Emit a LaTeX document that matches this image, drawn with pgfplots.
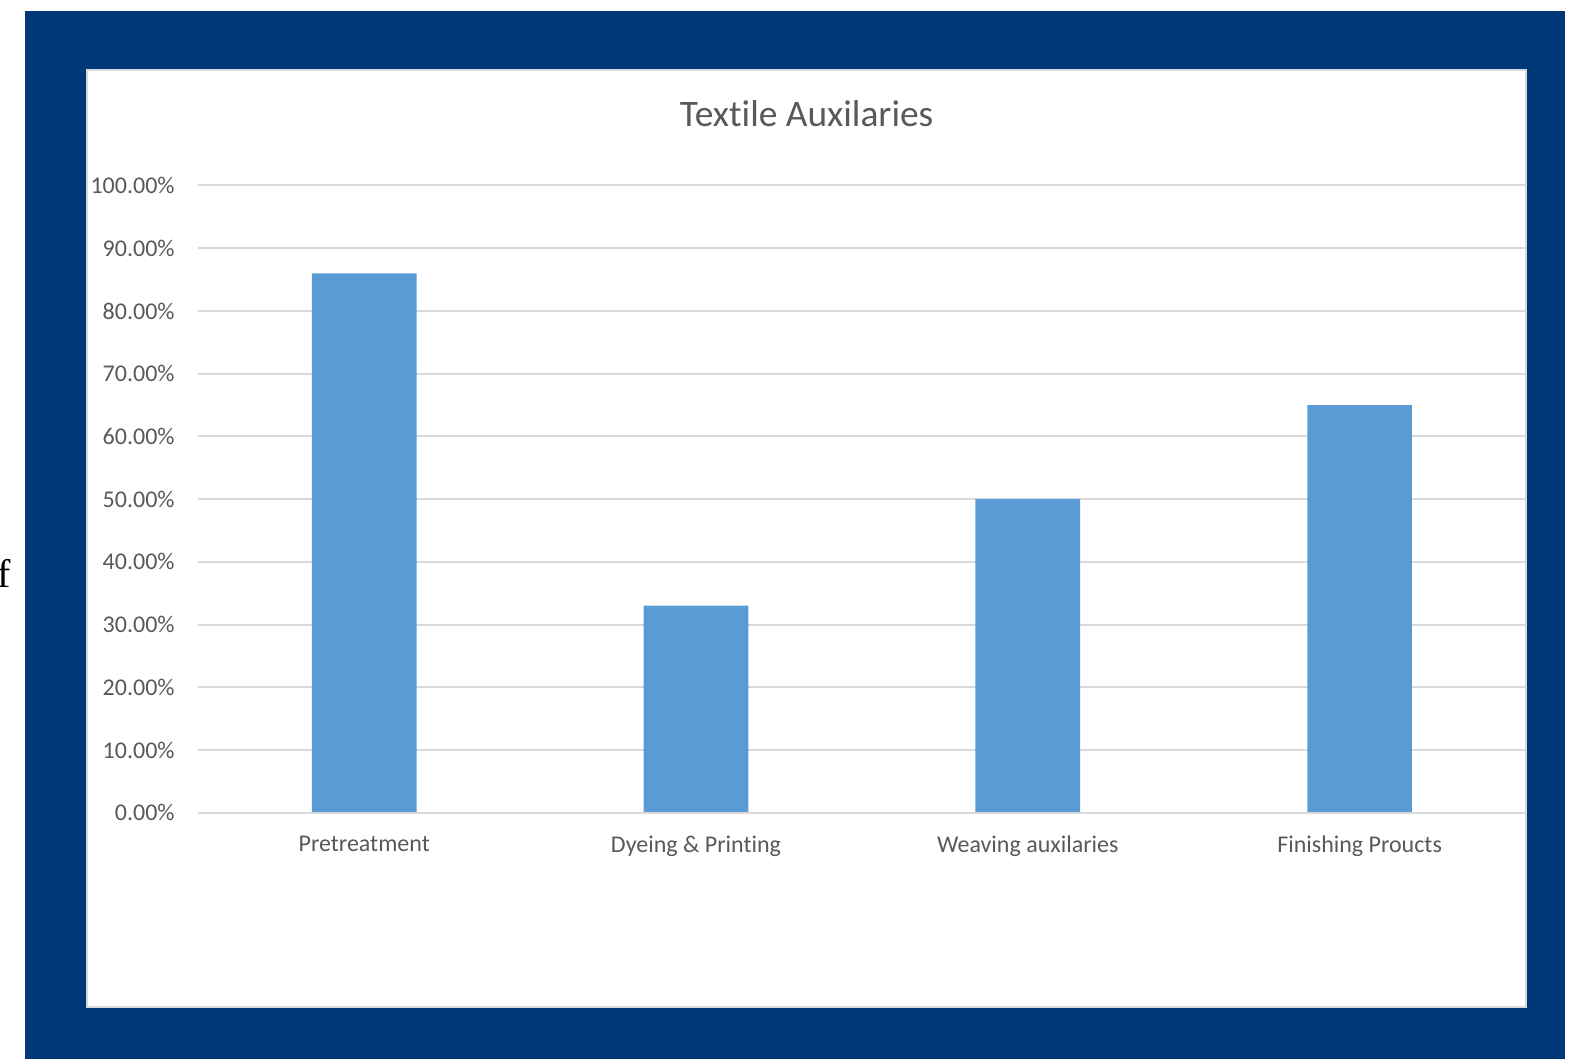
\documentclass[border=0pt]{standalone}
\usepackage{pgfplots}
\pgfplotsset{compat=1.18}
\usepackage{fontspec}
\setmainfont{Carlito}[Ligatures={NoCommon}]
\newfontfamily\seriffont{Liberation Serif}
\definecolor{framebl}{HTML}{003778}
\definecolor{barbl}{HTML}{5B9BD5}
\definecolor{txtgray}{HTML}{595959}
\definecolor{gridgray}{HTML}{D9D9D9}
\begin{document}
\begin{tikzpicture}
% page bounds: 1572x1059 px at 0.5pt/px
\fill[white] (-99.15pt,-123.15pt) rectangle (686.85pt,406.35pt);
\fill[framebl] (-86.65pt,-123.15pt) rectangle (683.35pt,400.85pt);
\filldraw[fill=white,draw=gridgray,line width=1pt] (-55.5pt,-97.3pt) rectangle (663.6pt,371.35pt);
\node[anchor=base west,inner sep=0pt,font=\seriffont\fontsize{20}{24}\selectfont] at (-100.5pt,112.35pt) {f};
\node[anchor=base,inner sep=0pt,text=txtgray,font=\fontsize{18.7}{22}\selectfont] at (304.2pt,343.0pt) {Textile Auxilaries};
\begin{axis}[
  at={(0pt,0pt)}, anchor=south west,
  scale only axis, width=663.6pt, height=313.6pt,
  xmin=-0.5, xmax=3.5, ymin=0, ymax=100,
  axis line style={draw=none},
  ytick={0,10,...,100},
  yticklabels={0.00\%,10.00\%,20.00\%,30.00\%,40.00\%,50.00\%,60.00\%,70.00\%,80.00\%,90.00\%,100.00\%},
  xtick={0,1,2,3},
  xticklabels={Pretreatment,Dyeing \& Printing,Weaving auxilaries,Finishing Proucts},
  major tick length=0pt,
  ymajorgrids, grid style={gridgray,line width=1pt},
  yticklabel style={anchor=east,inner sep=0pt,xshift=-11.65pt,text=txtgray,font=\fontsize{12}{14}\selectfont},
  xticklabel style={anchor=north,inner sep=0pt,yshift=-11.4pt,text=txtgray,font=\fontsize{12}{14}\selectfont},
  clip=false,
]
\addplot[ybar, bar width=52.35pt, fill=barbl, draw=none, bar shift=0pt] coordinates {(0,86) (1,33) (2,50) (3,65)};
\draw[gridgray,line width=1pt] (axis cs:-0.5,0) -- (axis cs:3.5,0);
\end{axis}
\pgfresetboundingbox
\path[use as bounding box] (-99.15pt,-123.15pt) rectangle (686.85pt,406.35pt);
\end{tikzpicture}
\end{document}
